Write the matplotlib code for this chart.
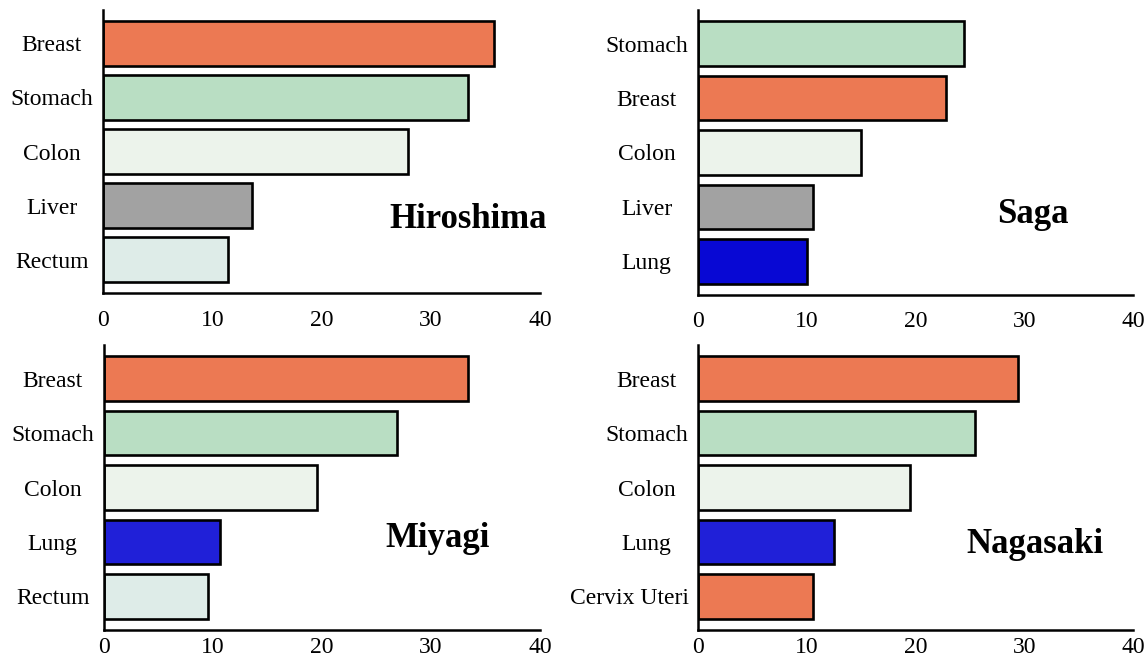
import matplotlib
matplotlib.use('Agg')
import matplotlib.pyplot as plt
from matplotlib.transforms import ScaledTranslation

plt.rcParams['font.family'] = ['Liberation Serif', 'DejaVu Serif']

# leading cancer sites per prefecture
hiroshima_sites = ['Breast', 'Stomach', 'Colon', 'Liver', 'Rectum']
hiroshima_vals = [35.8, 33.4, 27.9, 13.6, 11.4]

saga_sites = ['Stomach', 'Breast', 'Colon', 'Liver', 'Lung']
saga_vals = [24.5, 22.8, 15.0, 10.6, 10.0]

miyagi_sites = ['Breast', 'Stomach', 'Colon', 'Lung', 'Rectum']
miyagi_vals = [33.4, 26.9, 19.5, 10.6, 9.5]

nagasaki_sites = ['Breast', 'Stomach', 'Colon', 'Lung', 'Cervix Uteri']
nagasaki_vals = [29.4, 25.5, 19.5, 12.5, 10.6]

xticks = [0, 10, 20, 30, 40]

site_colors = {
    'Breast': '#EC7953',
    'Stomach': '#B9DEC3',
    'Colon': '#ECF3EB',
    'Liver': '#A2A2A2',
    'Rectum': '#DEECE8',
    'Lung': '#2020D8',
    'Cervix Uteri': '#EC7953',
}

W, H = 1148, 664
fig = plt.figure(figsize=(W / 100, H / 100), dpi=100)


def panel(rect_px, sites, vals, name, name_xy, lung_color=None, xpad=12):
    left, top, width, height = rect_px
    ax = fig.add_axes([left / W, (H - top - height) / H, width / W, height / H])
    colors = [site_colors[s] for s in sites]
    if lung_color is not None:
        colors = [lung_color if s == 'Lung' else c for s, c in zip(sites, colors)]
    ax.barh(range(len(sites)), vals, height=0.82, color=colors,
            edgecolor='black', linewidth=1.9)
    ax.set_xlim(0, 40)
    ax.set_ylim(len(sites) - 0.38, -0.62)
    ax.set_xticks(xticks)
    ax.set_yticks(range(len(sites)))
    ax.set_yticklabels(sites)
    ax.tick_params(axis='y', length=0, pad=37, labelsize=17)
    ax.tick_params(axis='x', length=0, pad=xpad, labelsize=17)
    for lab in ax.get_yticklabels():
        lab.set_horizontalalignment('center')
        # long labels sit further left so they clear the axis
        if len(lab.get_text()) > 8:
            lab.set_transform(lab.get_transform() +
                              ScaledTranslation(-0.17, 0, fig.dpi_scale_trans))
    for s in ['top', 'right']:
        ax.spines[s].set_visible(False)
    for s in ['left', 'bottom']:
        ax.spines[s].set_linewidth(1.8)
    ax.text(name_xy[0], name_xy[1], name, transform=ax.transAxes,
            fontsize=25, fontweight='bold', ha='center', va='center')
    return ax


panel((103, 10, 437, 283), hiroshima_sites, hiroshima_vals, 'Hiroshima', (0.835, 0.26), xpad=12.5)
panel((698, 10, 435, 285), saga_sites, saga_vals, 'Saga', (0.77, 0.284), lung_color='#0808D4', xpad=11.5)
panel((104, 345, 436, 285), miyagi_sites, miyagi_vals, 'Miyagi', (0.764, 0.32), xpad=5)
panel((698, 345, 435, 285), nagasaki_sites, nagasaki_vals, 'Nagasaki', (0.775, 0.30), xpad=5)

fig.savefig('out.png', dpi=100)
